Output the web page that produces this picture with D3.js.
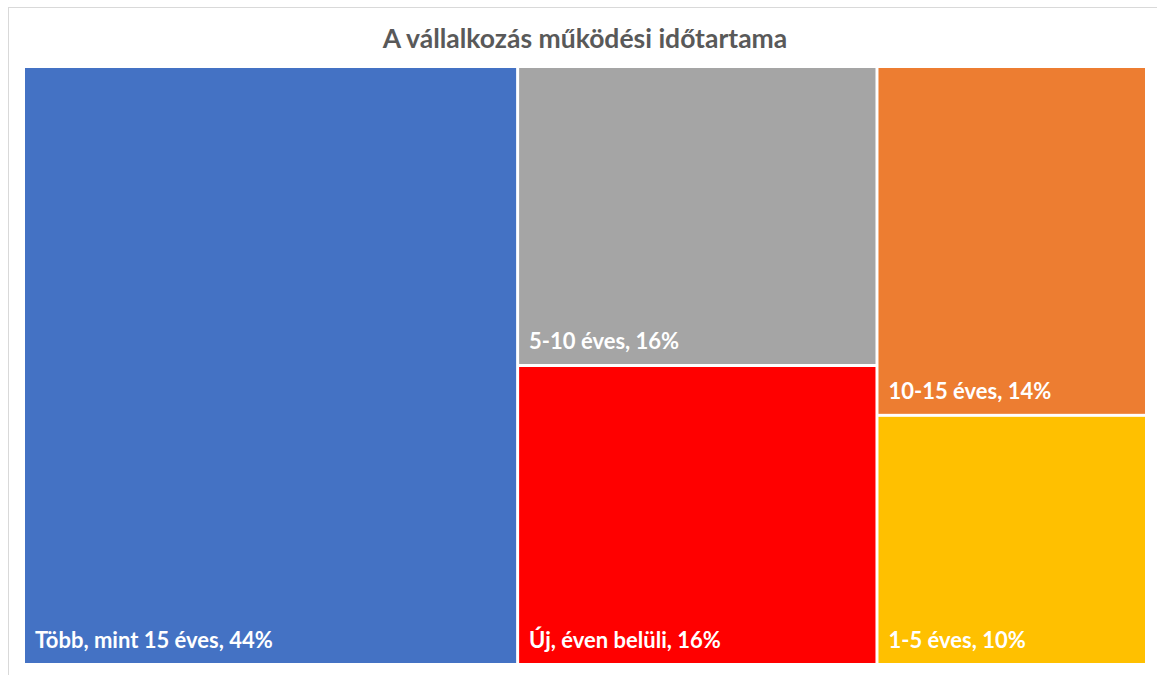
<!DOCTYPE html>
<html>
<head>
<meta charset="utf-8">
<script src="https://cdn.jsdelivr.net/npm/d3@7"></script>
<style>
  body { margin: 0; background: #fff; }
  svg { display: block; }
</style>
</head>
<body>
<svg id="chart"></svg>
<script>
const title = 'A vállalkozás működési időtartama';
const categories = ['Több, mint 15 éves', '5-10 éves', 'Új, éven belüli', '10-15 éves', '1-5 éves'];
const shares = [44, 16, 16, 14, 10];
const columns = [0, 1, 1, 2, 2];
const colors = ['#4472C4', '#A5A5A5', '#FF0000', '#ED7D31', '#FFC000'];

const width = 1157;
const height = 675;
const plot = { left: 25, top: 68, right: 1145, bottom: 663 };

const svg = d3.select('#chart')
  .attr('width', width)
  .attr('height', height);

// chart frame
svg.append('rect')
  .attr('x', 8.5).attr('y', 7.5)
  .attr('width', width + 10).attr('height', height + 10)
  .attr('fill', 'none')
  .attr('stroke', '#D9D9D9');

svg.append('text')
  .attr('x', 585)
  .attr('y', 48)
  .attr('text-anchor', 'middle')
  .attr('font-family', 'Lato, sans-serif')
  .attr('font-weight', 'bold')
  .attr('font-size', 26.5)
  .attr('fill', '#595959')
  .text(title);

// build hierarchy: root -> columns -> leaves
const groups = d3.groups(categories.map((c, i) => ({ name: c, value: shares[i], color: colors[i], col: columns[i] })), d => d.col);
const root = d3.hierarchy({ children: groups.map(([k, items]) => ({ children: items })) })
  .sum(d => d.value || 0);

d3.treemap()
  .tile(d3.treemapSliceDice)
  .size([plot.right - plot.left, plot.bottom - plot.top])
  .paddingInner(3)(root);

const g = svg.append('g')
  .attr('transform', 'translate(' + plot.left + ',' + plot.top + ')');

const leaf = g.selectAll('g.leaf')
  .data(root.leaves())
  .enter()
  .append('g')
  .attr('class', 'leaf');

leaf.append('rect')
  .attr('x', d => d.x0)
  .attr('y', d => d.y0)
  .attr('width', d => d.x1 - d.x0)
  .attr('height', d => d.y1 - d.y0)
  .attr('fill', d => d.data.color);

leaf.append('text')
  .attr('x', d => d.x0 + 10)
  .attr('y', d => d.y1 - 15)
  .attr('font-family', 'Lato, sans-serif')
  .attr('font-weight', 'bold')
  .attr('font-size', 22)
  .attr('fill', '#fff')
  .text(d => d.data.name + ', ' + d.data.value + '%');
</script>
</body>
</html>
